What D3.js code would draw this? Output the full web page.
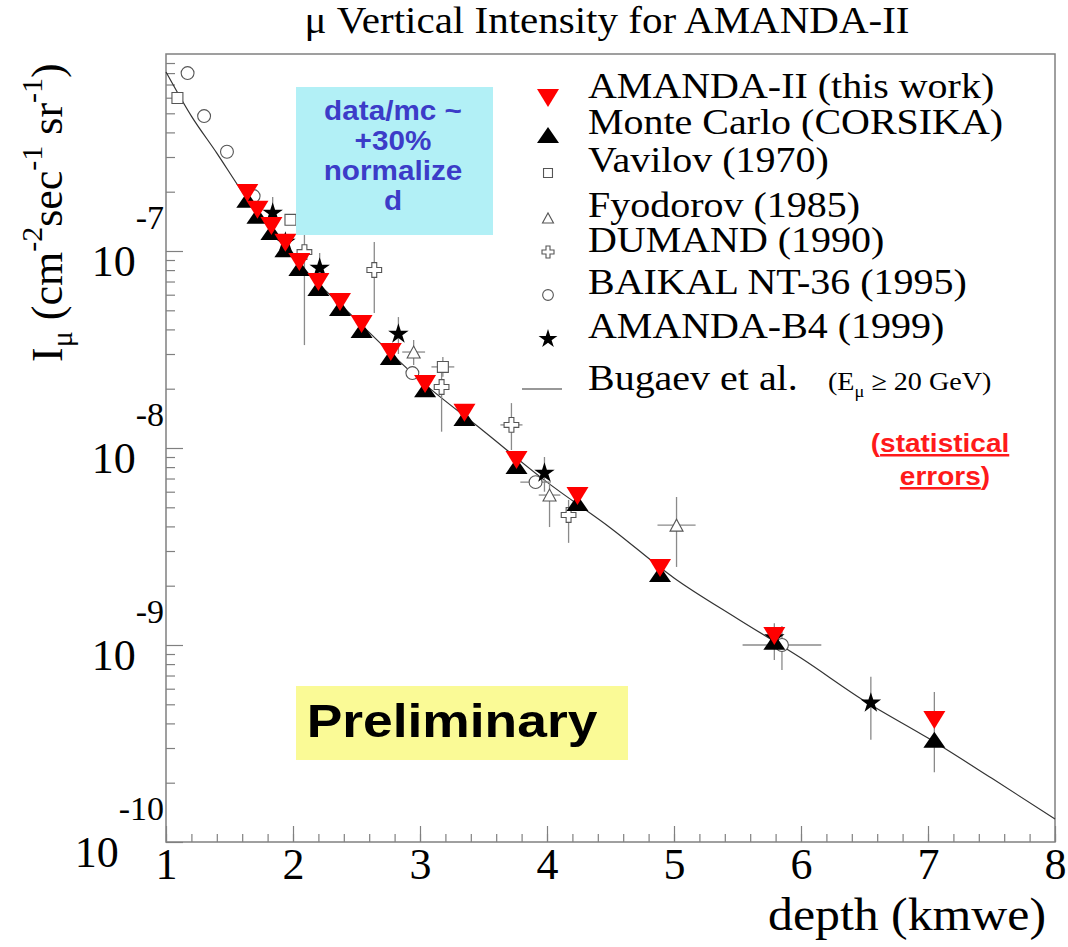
<!DOCTYPE html>
<html><head><meta charset="utf-8">
<script src="https://cdn.jsdelivr.net/npm/d3@7"></script>
<style>body{margin:0;background:#fff;} svg{display:block;}</style>
</head><body>
<svg id="chart" width="1068" height="947"></svg>
<script>
// ---------------- data ----------------
const amandaDepth = [1.64, 1.72, 1.83, 1.94, 2.05, 2.20, 2.37, 2.54, 2.77, 3.04, 3.35, 3.76, 4.24, 4.89, 5.79, 7.05];
const amandaFlux  = [1.97e-7, 1.62e-7, 1.34e-7, 1.10e-7, 8.80e-8, 6.96e-8, 5.51e-8, 4.26e-8, 3.07e-8, 2.11e-8, 1.51e-8, 8.69e-9, 5.70e-9, 2.46e-9, 1.11e-9, 4.16e-10];
// statistical error limits (only the last is visible)
const amandaErrLo = [null, null, null, null, null, null, null, null, null, null, null, null, null, null, null, 2.26e-10];
const amandaErrHi = [null, null, null, null, null, null, null, null, null, null, null, null, null, null, null, 5.77e-10];
const mcFlux      = [1.82e-7, 1.51e-7, 1.25e-7, 1.02e-7, 8.20e-8, 6.49e-8, 5.14e-8, 3.97e-8, 2.90e-8, 1.99e-8, 1.42e-8, 8.11e-9, 5.26e-9, 2.29e-9, 1.04e-9, 3.30e-10];

const bugaevDepth = [1.0, 1.2, 1.4, 1.6, 1.8, 2.0, 2.5, 3.0, 3.5, 4.0, 4.5, 5.0, 5.5, 6.0, 6.5, 7.0, 7.5, 8.0];
const bugaevFlux  = [8.11e-7, 4.84e-7, 3.14e-7, 2.0e-7, 1.34e-7, 9.33e-8, 4.46e-8, 2.21e-8, 1.22e-8, 6.71e-9, 3.93e-9, 2.19e-9, 1.36e-9, 8.59e-10, 5.20e-10, 3.37e-10, 2.11e-10, 1.31e-10];

// other experiments: [depth, flux, depthErr, fluxLo, fluxHi]
const vavilov  = [[1.09, 5.98e-7, 0, null, null], [1.98, 1.44e-7, 0, null, null], [3.18, 2.58e-8, 0.09, 2.3e-8, 2.9e-8]];
const fyodorov = [[2.95, 3.07e-8, 0.09, 2.64e-8, 3.53e-8], [4.02, 5.77e-9, 0.085, 3.97e-9, 6.64e-9], [5.02, 4.06e-9, 0.15, 2.49e-9, 5.64e-9]];
const dumand   = [[2.09, 9.88e-8, 0, 3.33e-8, 1.6e-7], [2.64, 8.01e-8, 0, 4.84e-8, 1.11e-7], [3.17, 2.04e-8, 0, 1.21e-8, 2.5e-8], [3.72, 1.31e-8, 0.087, 9.77e-9, 1.69e-8], [4.17, 4.57e-9, 0, 3.30e-9, 5.45e-9]];
const baikal   = [[1.17, 8.0e-7, 0, null, null], [1.30, 4.84e-7, 0, null, null], [1.48, 3.19e-7, 0, null, null], [1.69, 1.90e-7, 0, null, null], [2.94, 2.40e-8, 0, null, null], [3.91, 6.71e-9, 0.12, null, null], [5.85, 1.0e-9, 0.31, 7.46e-10, 1.25e-9]];
const amandaB4 = [[1.84, 1.56e-7, 0, 1.25e-7, 1.88e-7], [1.94, 1.11e-7, 0, null, null], [2.21, 8.20e-8, 0, 6.7e-8, 9.77e-8], [2.83, 3.79e-8, 0, 3.0e-8, 4.62e-8], [3.98, 7.46e-9, 0, 6.0e-9, 9.0e-9], [5.79, 1.09e-9, 0, 8.4e-10, 1.29e-9], [6.55, 5.08e-10, 0, 3.30e-10, 6.89e-10]];

const xTicks = [1, 2, 3, 4, 5, 6, 7, 8];
const yTickExp = [-10, -9, -8, -7];
const legendLabels = ["AMANDA-II (this work)", "Monte Carlo (CORSIKA)", "Vavilov (1970)", "Fyodorov (1985)", "DUMAND (1990)", "BAIKAL NT-36 (1995)", "AMANDA-B4 (1999)", "Bugaev et al."];

// ---------------- drawing ----------------
const svg = d3.select("#chart");
const L = 166, R = 1055, T = 54, B = 842;
const x = d3.scaleLinear().domain([1, 8]).range([L, R]);
const y = d3.scaleLog().domain([1e-10, 1e-6]).range([B, T]);
const serif = "'Liberation Serif','Times New Roman',serif";
const sans = "'Liberation Sans',Arial,sans-serif";
const axisCol = "#808080";

// widen a text horizontally by a factor
function stretch(sel, f) {
  const w = sel.node().getComputedTextLength();
  sel.attr("textLength", w * f).attr("lengthAdjust", "spacingAndGlyphs");
  return sel;
}

// title
svg.append("text").attr("x", 607).attr("y", 33).attr("text-anchor", "middle")
  .attr("font-family", serif).attr("font-size", 38).attr("textLength", 605).attr("lengthAdjust", "spacingAndGlyphs")
  .text("μ Vertical Intensity for AMANDA-II");

// axes ticks
const xMinor = d3.range(0, 36).map(i => 1 + i * 0.2);
const gx = svg.append("g").attr("transform", `translate(0,${B})`);
gx.call(d3.axisBottom(x).tickValues(xMinor).tickSizeInner(-8).tickSizeOuter(0).tickFormat(""));
const gx2 = svg.append("g").attr("transform", `translate(0,${B})`);
gx2.call(d3.axisBottom(x).tickValues(xTicks).tickSizeInner(-16).tickSizeOuter(0).tickPadding(6).tickFormat(d3.format("d")));
gx2.selectAll("text").attr("font-family", serif).attr("font-size", 44).attr("fill", "#000");

const yMinor = [];
yTickExp.forEach(e => { for (let m = 2; m <= 9; m++) yMinor.push(m * Math.pow(10, e)); });
const gy = svg.append("g").attr("transform", `translate(${L},0)`);
gy.call(d3.axisLeft(y).tickValues(yMinor).tickSizeInner(-9).tickSizeOuter(0).tickFormat(""));
const gy2 = svg.append("g").attr("transform", `translate(${L},0)`);
gy2.call(d3.axisLeft(y).tickValues(yTickExp.map(e => Math.pow(10, e))).tickSizeInner(-17).tickSizeOuter(0).tickFormat(""));
[gx, gx2, gy, gy2].forEach(g => { g.select(".domain").remove(); g.selectAll("line").attr("stroke", axisCol).attr("stroke-width", 1.2); });

// y tick labels 10^e
yTickExp.forEach(e => {
  const t = svg.append("text").attr("x", 164).attr("y", y(Math.pow(10, e)) + 25).attr("text-anchor", "end")
    .attr("font-family", serif).attr("font-size", 44);
  t.append("tspan").text("10");
  t.append("tspan").attr("dy", -47).attr("font-size", 34).text(e.toString());
});

// frame
svg.append("rect").attr("x", L).attr("y", T).attr("width", R - L).attr("height", B - T)
  .attr("fill", "none").attr("stroke", axisCol).attr("stroke-width", 1.5);

// axis titles
svg.append("text").attr("x", 1046).attr("y", 930).attr("text-anchor", "end")
  .attr("font-family", serif).attr("font-size", 46).attr("textLength", 278).attr("lengthAdjust", "spacingAndGlyphs")
  .text("depth (kmwe)");
const yl = svg.append("text").attr("transform", "translate(62,362) rotate(-90)")
  .attr("font-family", serif).attr("font-size", 44);
yl.append("tspan").text("I");
yl.append("tspan").attr("font-size", 30).attr("dy", 10).text("μ");
yl.append("tspan").attr("dy", -10).text(" (cm");
yl.append("tspan").attr("font-size", 30).attr("dy", -20).text("-2");
yl.append("tspan").attr("dy", 20).text("sec");
yl.append("tspan").attr("font-size", 30).attr("dy", -20).text("-1");
yl.append("tspan").attr("dy", 20).text(" sr");
yl.append("tspan").attr("font-size", 30).attr("dy", -20).text("-1");
yl.append("tspan").attr("dy", 20).text(")");

// Bugaev curve
const line = d3.line().x(d => x(d[0])).y(d => y(d[1])).curve(d3.curveMonotoneX);
svg.append("path").datum(bugaevDepth.map((d, i) => [d, bugaevFlux[i]]))
  .attr("d", line).attr("fill", "none").attr("stroke", "#333").attr("stroke-width", 1.2);

// error bars
const errCol = "#8a8a8a";
const eg = svg.append("g").attr("stroke", errCol).attr("stroke-width", 1.3);
function errBars(arr) {
  arr.forEach(p => {
    const [d, f, xe, lo, hi] = p;
    if (xe) eg.append("line").attr("x1", x(d - xe)).attr("x2", x(d + xe)).attr("y1", y(f)).attr("y2", y(f));
    if (lo != null) eg.append("line").attr("x1", x(d)).attr("x2", x(d)).attr("y1", y(lo)).attr("y2", y(hi));
  });
}
[vavilov, fyodorov, dumand, baikal, amandaB4].forEach(errBars);
amandaDepth.forEach((d, i) => {
  if (amandaErrLo[i] != null) eg.append("line").attr("x1", x(d)).attr("x2", x(d)).attr("y1", y(amandaErrLo[i])).attr("y2", y(amandaErrHi[i]));
});

// markers
const sym = (type, size) => d3.symbol().type(type).size(size)();
const downTri = (w, h) => `M${-w/2},${-h/2}L${w/2},${-h/2}L0,${h/2}Z`;
const upTri = (w, h) => `M${-w/2},${h/2}L${w/2},${h/2}L0,${-h/2}Z`;
const openStyle = s => s.attr("fill", "#fff").attr("stroke", "#555").attr("stroke-width", 1.1);

function drawOpen(arr, path) {
  svg.append("g").selectAll("path").data(arr).join("path")
    .attr("transform", p => `translate(${x(p[0])},${y(p[1])})`).attr("d", path)
    .call(openStyle);
}
drawOpen(vavilov, sym(d3.symbolSquare, 120));
drawOpen(fyodorov, upTri(13, 12));
drawOpen(dumand, sym(d3.symbolCross, 120));
drawOpen(baikal, sym(d3.symbolCircle, 130));
svg.append("g").selectAll("path").data(amandaB4).join("path")
  .attr("transform", p => `translate(${x(p[0])},${y(p[1])})`).attr("d", sym(d3.symbolStar, 130)).attr("fill", "#000");

svg.append("g").selectAll("path").data(amandaDepth).join("path")
  .attr("transform", (d, i) => `translate(${x(d)},${y(mcFlux[i])})`).attr("d", upTri(22, 16)).attr("fill", "#000");
svg.append("g").selectAll("path").data(amandaDepth).join("path")
  .attr("transform", (d, i) => `translate(${x(d)},${y(amandaFlux[i])})`).attr("d", downTri(22, 18)).attr("fill", "#ff0000");

// boxes
svg.append("rect").attr("x", 296).attr("y", 87).attr("width", 197).attr("height", 148).attr("fill", "#b2f0f6");
const bt = ["data/mc ~", "+30%", "normalize", "d"];
bt.forEach((s, i) => stretch(svg.append("text").attr("x", 393).attr("y", 120 + i * 30).attr("text-anchor", "middle")
  .attr("font-family", sans).attr("font-weight", "bold").attr("font-size", 28).attr("fill", "#3c3cc8").text(s), 1.06));

svg.append("rect").attr("x", 296).attr("y", 686).attr("width", 332).attr("height", 74).attr("fill", "#fafa96");
stretch(svg.append("text").attr("x", 452).attr("y", 737).attr("text-anchor", "middle")
  .attr("font-family", sans).attr("font-weight", "bold").attr("font-size", 46).attr("fill", "#000").text("Preliminary"), 1.16);

const st = svg.append("g").attr("font-family", sans).attr("font-weight", "bold").attr("font-size", 25).attr("fill", "#ff1a1a");
const s1 = st.append("text").attr("x", 940).attr("y", 452).attr("text-anchor", "middle");
s1.append("tspan").text("(");
s1.append("tspan").attr("text-decoration", "underline").text("statistical");
stretch(s1, 1.12);
const s2 = st.append("text").attr("x", 945).attr("y", 485).attr("text-anchor", "middle");
s2.append("tspan").attr("text-decoration", "underline").text("errors");
s2.append("tspan").text(")");
stretch(s2, 1.12);

// legend
const legY = [98, 134, 172, 217, 252, 294, 338, 390];
const legMarkers = [
  g => g.append("path").attr("d", downTri(22, 18)).attr("fill", "#ff0000"),
  g => g.append("path").attr("d", upTri(22, 16)).attr("fill", "#000"),
  g => g.append("path").attr("d", sym(d3.symbolSquare, 80)).call(openStyle),
  g => g.append("path").attr("d", upTri(11, 10)).call(openStyle),
  g => g.append("path").attr("d", sym(d3.symbolCross, 80)).call(openStyle),
  g => g.append("path").attr("d", sym(d3.symbolCircle, 90)).call(openStyle),
  g => g.append("path").attr("d", sym(d3.symbolStar, 110)).attr("fill", "#000"),
  g => g.append("line").attr("x1", -26).attr("x2", 14).attr("y1", 0).attr("y2", 0).attr("stroke", "#333").attr("stroke-width", 1.2)
];
const markerY = [98, 135, 173, 218, 252, 295, 339, 389];
legendLabels.forEach((lab, i) => {
  const g = svg.append("g").attr("transform", `translate(548,${markerY[i]})`);
  legMarkers[i](g);
  stretch(svg.append("text").attr("x", 588).attr("y", legY[i]).attr("font-family", serif).attr("font-size", 36).text(lab), 1.11);
});
const en = svg.append("text").attr("x", 828).attr("y", 390).attr("font-family", serif).attr("font-size", 26);
en.append("tspan").text("(E");
en.append("tspan").attr("font-size", 17).attr("dy", 7).text("μ");
en.append("tspan").attr("dy", -7).text(" ≥ 20 GeV)");
stretch(en, 1.08);
</script>
</body></html>
